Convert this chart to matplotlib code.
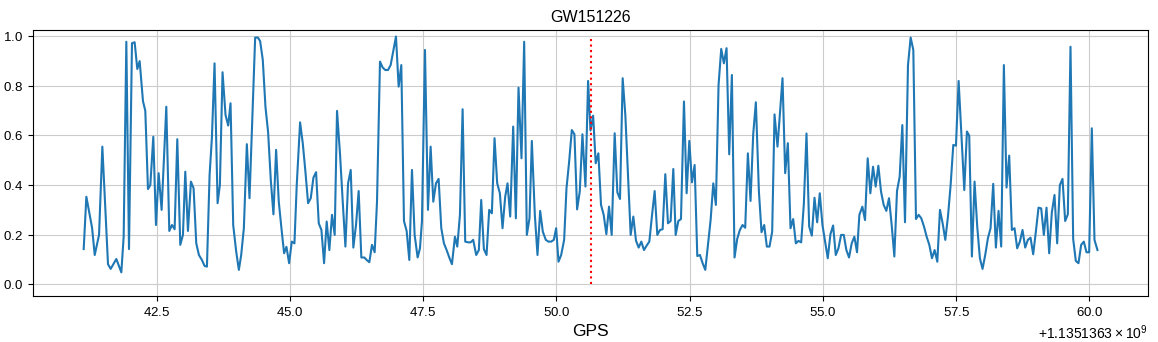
import matplotlib
matplotlib.use('Agg')
from matplotlib import pyplot as plt

# GPS offsets from 1135136300 s
t0 = 1135136300
event_time = 50.647
marker_span = [0.0, 0.99]

times = [41.132, 41.182, 41.289, 41.339, 41.42, 41.482, 41.588, 41.638, 41.744, 41.838,
	41.882, 41.932, 41.982, 42.038, 42.088, 42.138, 42.182, 42.244, 42.288, 42.338,
	42.382, 42.438, 42.488, 42.538, 42.594, 42.682, 42.738, 42.788, 42.838, 42.888,
	42.944, 42.994, 43.038, 43.088, 43.144, 43.194, 43.244, 43.294, 43.35, 43.4,
	43.444, 43.494, 43.537, 43.587, 43.644, 43.687, 43.737, 43.793, 43.843, 43.887,
	43.937, 43.993, 44.043, 44.087, 44.137, 44.193, 44.243, 44.349, 44.399, 44.442,
	44.492, 44.542, 44.592, 44.642, 44.692, 44.742, 44.792, 44.842, 44.892, 44.936,
	44.986, 45.036, 45.086, 45.129, 45.192, 45.242, 45.292, 45.342, 45.392, 45.442,
	45.492, 45.542, 45.592, 45.642, 45.691, 45.741, 45.791, 45.841, 45.885, 45.942,
	45.992, 46.042, 46.092, 46.142, 46.191, 46.241, 46.291, 46.341, 46.398, 46.441,
	46.491, 46.541, 46.591, 46.635, 46.691, 46.741, 46.791, 46.841, 46.891, 46.941,
	46.991, 47.041, 47.091, 47.141, 47.191, 47.241, 47.291, 47.341, 47.397, 47.441,
	47.478, 47.535, 47.591, 47.641, 47.691, 47.741, 47.791, 47.841, 47.891, 47.941,
	47.991, 48.041, 48.097, 48.141, 48.191, 48.241, 48.29, 48.347, 48.39, 48.44,
	48.496, 48.546, 48.59, 48.64, 48.69, 48.74, 48.79, 48.84, 48.89, 48.94,
	48.99, 49.04, 49.084, 49.134, 49.19, 49.24, 49.29, 49.346, 49.396, 49.446,
	49.496, 49.54, 49.596, 49.646, 49.696, 49.746, 49.802, 49.852, 49.902, 49.952,
	49.996, 50.04, 50.09, 50.146, 50.19, 50.24, 50.29, 50.339, 50.389, 50.439,
	50.489, 50.546, 50.595, 50.64, 50.69, 50.738, 50.788, 50.838, 50.888, 50.938,
	50.988, 51.038, 51.094, 51.144, 51.194, 51.244, 51.294, 51.344, 51.394, 51.444,
	51.494, 51.544, 51.594, 51.644, 51.694, 51.744, 51.794, 51.844, 51.894, 51.944,
	51.994, 52.044, 52.094, 52.144, 52.194, 52.238, 52.288, 52.338, 52.394, 52.444,
	52.494, 52.544, 52.594, 52.644, 52.694, 52.744, 52.794, 52.844, 52.894, 52.944,
	52.993, 53.043, 53.093, 53.143, 53.193, 53.243, 53.293, 53.343, 53.393, 53.443,
	53.493, 53.543, 53.593, 53.643, 53.693, 53.743, 53.8, 53.849, 53.899, 53.949,
	53.999, 54.049, 54.093, 54.149, 54.193, 54.243, 54.293, 54.343, 54.393, 54.443,
	54.493, 54.543, 54.593, 54.643, 54.693, 54.743, 54.793, 54.843, 54.893, 54.942,
	54.992, 55.042, 55.092, 55.142, 55.192, 55.242, 55.292, 55.342, 55.392, 55.441,
	55.491, 55.541, 55.591, 55.641, 55.685, 55.741, 55.791, 55.841, 55.891, 55.941,
	55.991, 56.041, 56.091, 56.141, 56.191, 56.241, 56.291, 56.341, 56.391, 56.441,
	56.491, 56.541, 56.597, 56.647, 56.697, 56.747, 56.797, 56.847, 56.897, 56.947,
	56.997, 57.047, 57.097, 57.147, 57.197, 57.247, 57.297, 57.347, 57.397, 57.447,
	57.497, 57.547, 57.597, 57.653, 57.703, 57.746, 57.796, 57.846, 57.896, 57.946,
	57.996, 58.046, 58.096, 58.146, 58.196, 58.246, 58.296, 58.346, 58.396, 58.446,
	58.496, 58.546, 58.596, 58.646, 58.696, 58.746, 58.796, 58.846, 58.896, 58.946,
	58.996, 59.046, 59.096, 59.146, 59.196, 59.246, 59.296, 59.346, 59.396, 59.446,
	59.496, 59.546, 59.596, 59.646, 59.696, 59.746, 59.796, 59.846, 59.896, 59.946,
	59.996, 60.046, 60.096, 60.152]

values = [0.142, 0.353, 0.228, 0.118, 0.199, 0.555, 0.081, 0.062, 0.102, 0.048,
	0.192, 0.978, 0.142, 0.972, 0.976, 0.868, 0.9, 0.739, 0.699, 0.384,
	0.4, 0.595, 0.239, 0.448, 0.3, 0.716, 0.215, 0.239, 0.222, 0.585,
	0.159, 0.199, 0.454, 0.215, 0.414, 0.387, 0.165, 0.118, 0.098, 0.074,
	0.071, 0.441, 0.589, 0.891, 0.327, 0.4, 0.855, 0.683, 0.64, 0.73,
	0.239, 0.132, 0.058, 0.118, 0.226, 0.565, 0.347, 0.995, 0.995, 0.981,
	0.905, 0.716, 0.613, 0.421, 0.282, 0.542, 0.333, 0.226, 0.125, 0.151,
	0.085, 0.172, 0.165, 0.4, 0.653, 0.569, 0.454, 0.327, 0.347, 0.43,
	0.452, 0.246, 0.219, 0.085, 0.253, 0.138, 0.28, 0.199, 0.699, 0.522,
	0.333, 0.152, 0.407, 0.461, 0.148, 0.239, 0.376, 0.108, 0.108, 0.098,
	0.089, 0.159, 0.129, 0.333, 0.898, 0.874, 0.864, 0.864, 0.884, 0.941,
	0.999, 0.797, 0.884, 0.255, 0.215, 0.098, 0.461, 0.199, 0.108, 0.145,
	0.253, 0.945, 0.3, 0.555, 0.333, 0.407, 0.425, 0.226, 0.165, 0.138,
	0.108, 0.081, 0.192, 0.152, 0.28, 0.706, 0.172, 0.169, 0.169, 0.179,
	0.118, 0.138, 0.34, 0.142, 0.118, 0.3, 0.286, 0.589, 0.407, 0.367,
	0.226, 0.353, 0.407, 0.273, 0.636, 0.266, 0.793, 0.508, 0.978, 0.199,
	0.266, 0.578, 0.28, 0.118, 0.296, 0.212, 0.179, 0.172, 0.172, 0.179,
	0.226, 0.091, 0.118, 0.179, 0.387, 0.495, 0.622, 0.605, 0.302, 0.374,
	0.605, 0.394, 0.82, 0.62, 0.68, 0.488, 0.528, 0.32, 0.28, 0.202,
	0.313, 0.199, 0.609, 0.371, 0.344, 0.831, 0.683, 0.441, 0.199, 0.273,
	0.176, 0.148, 0.172, 0.138, 0.156, 0.172, 0.277, 0.376, 0.199, 0.219,
	0.222, 0.444, 0.246, 0.255, 0.465, 0.199, 0.255, 0.263, 0.737, 0.367,
	0.578, 0.411, 0.481, 0.114, 0.118, 0.085, 0.058, 0.159, 0.259, 0.407,
	0.32, 0.804, 0.949, 0.891, 0.952, 0.524, 0.844, 0.108, 0.183, 0.219,
	0.239, 0.228, 0.528, 0.336, 0.605, 0.734, 0.374, 0.21, 0.239, 0.152,
	0.152, 0.212, 0.685, 0.555, 0.683, 0.831, 0.448, 0.569, 0.226, 0.263,
	0.165, 0.175, 0.169, 0.323, 0.608, 0.233, 0.196, 0.349, 0.25, 0.367,
	0.239, 0.172, 0.105, 0.202, 0.237, 0.118, 0.145, 0.199, 0.199, 0.138,
	0.108, 0.165, 0.192, 0.129, 0.28, 0.313, 0.259, 0.508, 0.367, 0.474,
	0.394, 0.478, 0.374, 0.32, 0.296, 0.347, 0.239, 0.112, 0.376, 0.434,
	0.642, 0.25, 0.884, 0.995, 0.945, 0.263, 0.28, 0.266, 0.233, 0.192,
	0.159, 0.105, 0.138, 0.091, 0.3, 0.246, 0.179, 0.273, 0.4, 0.562,
	0.559, 0.82, 0.616, 0.38, 0.616, 0.599, 0.112, 0.414, 0.233, 0.105,
	0.062, 0.118, 0.185, 0.226, 0.405, 0.148, 0.296, 0.152, 0.884, 0.39,
	0.519, 0.219, 0.226, 0.145, 0.172, 0.219, 0.148, 0.179, 0.188, 0.121,
	0.212, 0.309, 0.306, 0.199, 0.309, 0.125, 0.29, 0.36, 0.165, 0.4,
	0.425, 0.255, 0.282, 0.958, 0.183, 0.094, 0.085, 0.159, 0.172, 0.129,
	0.129, 0.629, 0.179, 0.138]

plt.rcParams['font.family'] = ['Liberation Sans', 'DejaVu Sans']
plt.rcParams['axes.formatter.use_mathtext'] = True

fig = plt.figure(figsize=(11.58, 3.42), dpi=100)
ax = fig.add_axes([0.0285, 0.134, 0.963, 0.778])

ax.plot([t0 + t for t in times], values, color='#1f77b4', linewidth=1.5)
ax.vlines(t0 + event_time, marker_span[0], marker_span[1], color='red', linestyle=':', linewidth=1.5)

ax.set_ylim(-0.048, 1.025)
ax.set_title('GW151226', fontsize=11.5)
ax.set_xlabel('GPS', fontsize=12.5)
ax.grid(True, color='#cccccc', linewidth=0.8)
ax.set_axisbelow(True)
ax.tick_params(labelsize=9.5)

fig.savefig('out.png', dpi=100)
